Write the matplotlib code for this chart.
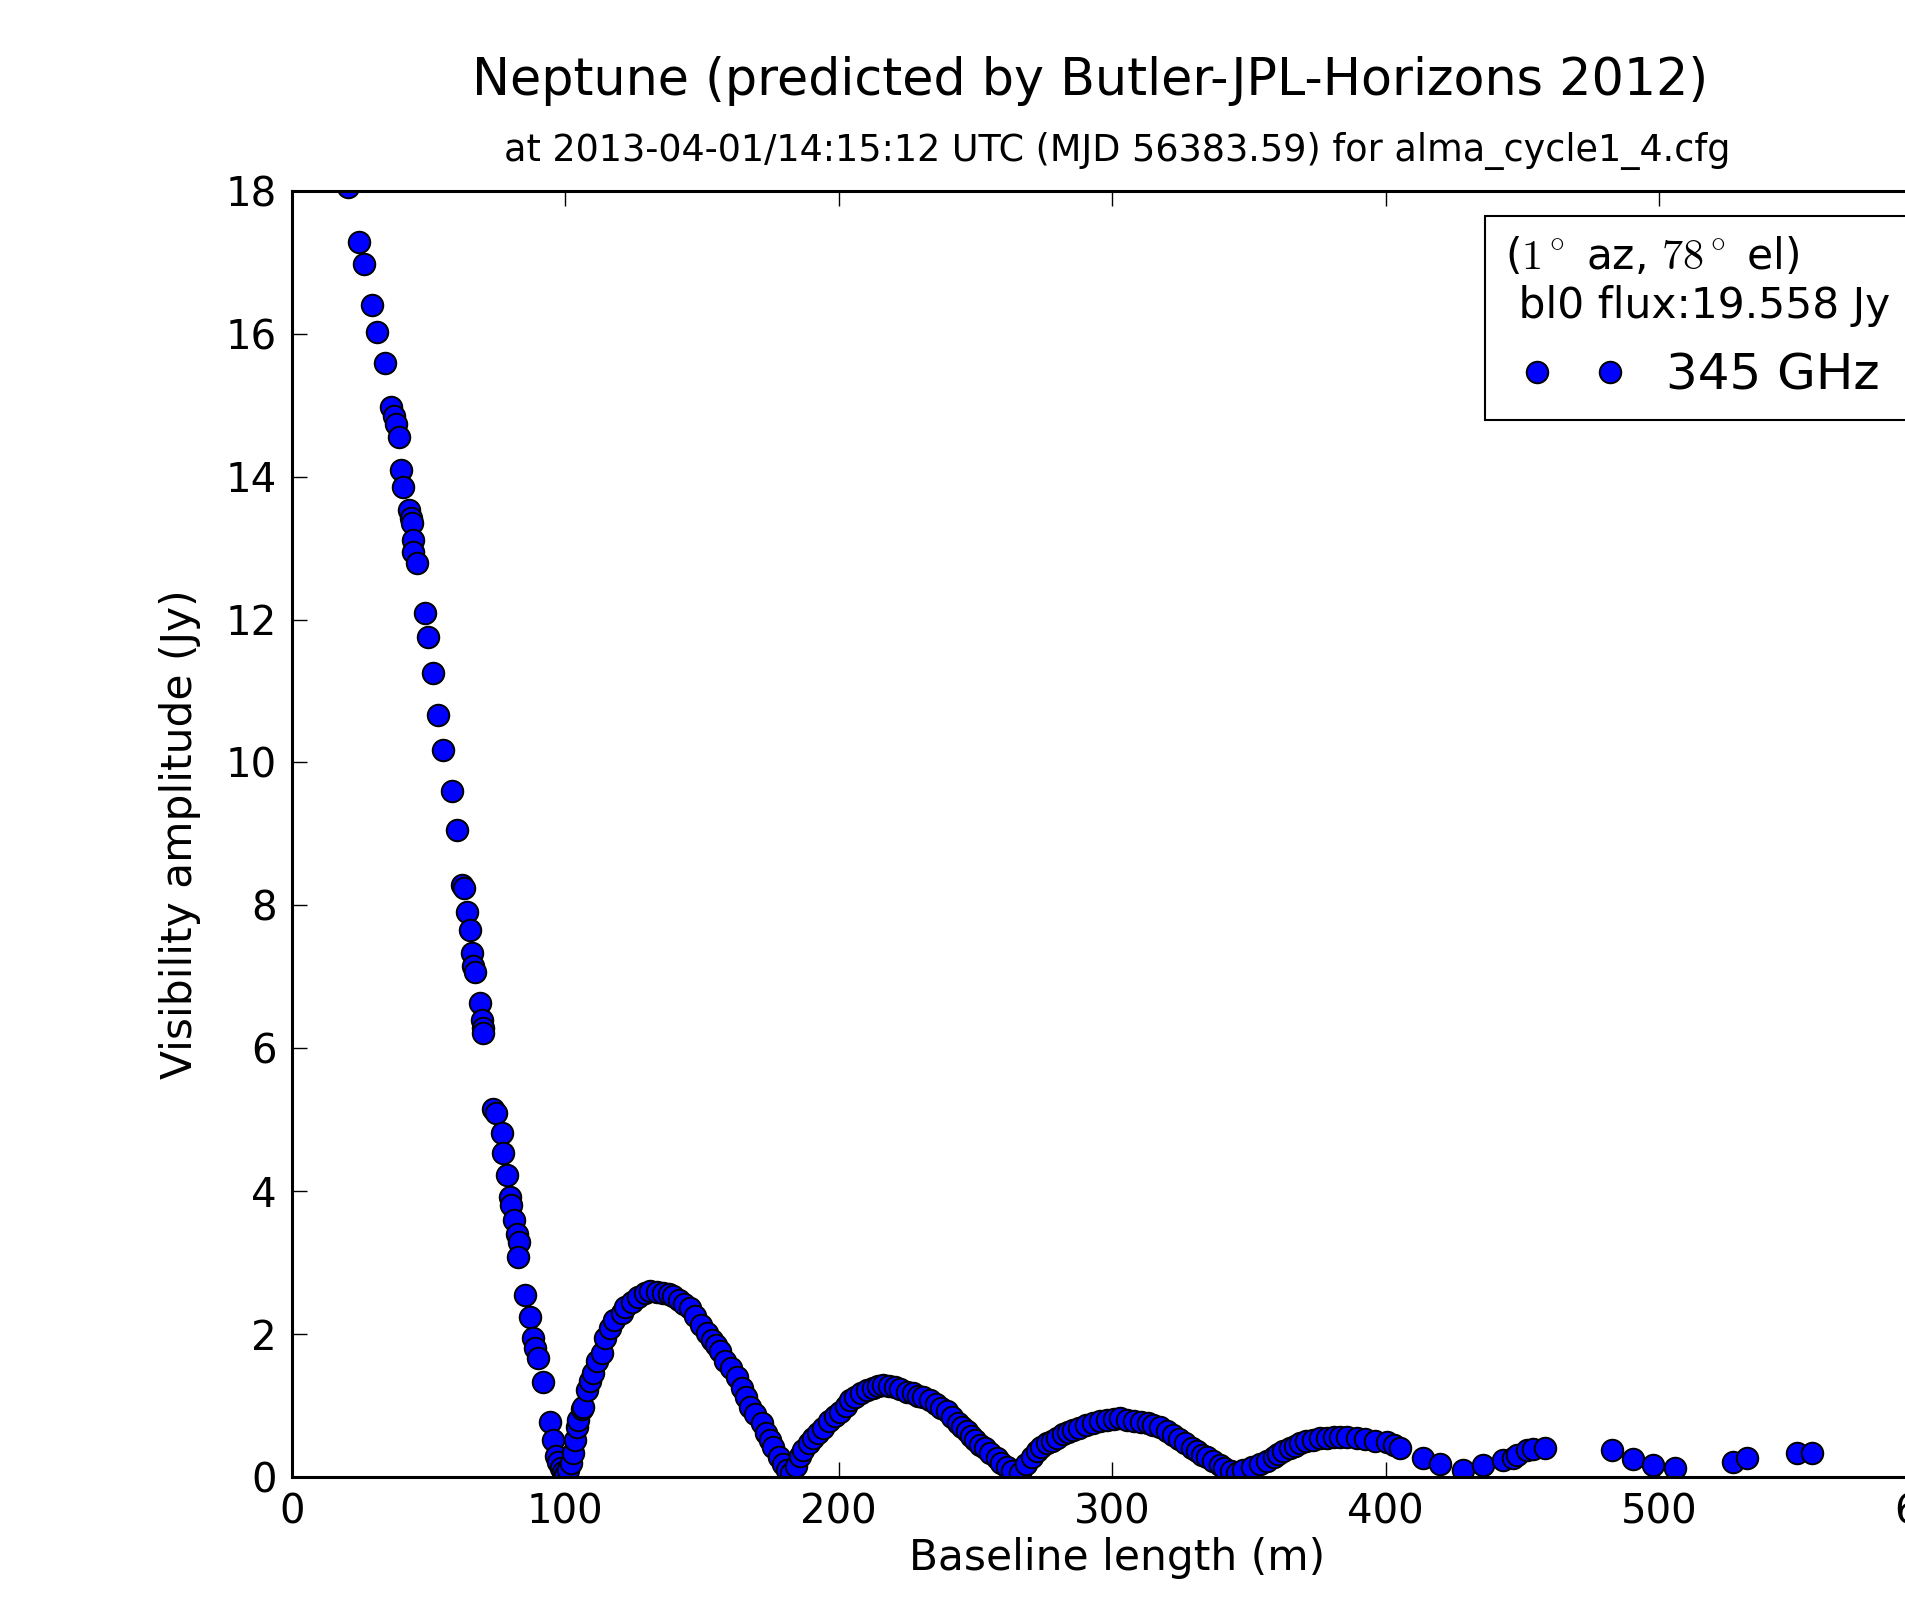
import numpy as np
import matplotlib
matplotlib.use('Agg')
import matplotlib.pyplot as plt
from matplotlib.legend_handler import HandlerLine2D

plt.rcParams['mathtext.fontset'] = 'cm'

# baseline length (m) and visibility amplitude (Jy)
baseline = [20.7, 24.7, 26.5, 29.2, 31.3, 34.1, 36.2, 37.3, 38.1, 39.2, 40.0, 40.8,
            43.0, 43.5, 43.9, 44.2, 44.5, 45.7, 48.7, 50.0, 51.6, 53.6, 55.4, 58.5,
            60.3, 62.4, 62.9, 64.0, 65.2, 65.8, 66.4, 67.0, 68.9, 69.5, 69.8, 70.1,
            73.6, 74.6, 76.8, 77.4, 78.6, 79.8, 80.3, 81.3, 82.5, 83.2, 82.9, 85.3,
            87.1, 88.1, 89.0, 90.2, 91.8, 94.4, 95.7, 96.8, 97.5, 98.4, 99.3,
            99.9, 101.1, 102.0, 103.0, 103.6, 104.2, 104.8, 106.0, 106.6, 107.9, 109.0,
            110.3, 111.5, 113.3, 114.6, 116.4, 118.0, 120.6, 122.0, 124.3, 126.5, 129.0,
            131.0, 133.5, 135.9, 138.0, 139.5, 141.5, 143.5, 145.6, 147.5, 149.5, 151.7,
            153.5, 155.0, 156.6, 158.5, 160.5, 162.7, 164.5, 166.0, 167.6, 169.5, 171.8,
            173.5, 174.8, 176.1, 178.0, 179.5, 181.0, 182.5, 184.5, 186.0, 187.1, 189.0,
            190.5, 192.5, 194.4, 196.5, 198.5, 200.5, 202.5, 204.1, 206.0, 208.0, 210.2,
            212.5, 214.5, 216.3, 218.5, 220.5, 222.5, 224.9, 227.0, 229.0, 231.0, 233.4,
            235.5, 237.5, 239.5, 241.5, 243.5, 245.0, 246.8, 248.5, 250.0, 251.7, 253.5,
            255.5, 257.8, 259.5, 261.4, 263.5, 266.3, 268.5, 270.6, 272.5, 274.0, 276.1,
            278.0, 279.7, 282.0, 283.8, 285.8, 288.0, 290.5, 293.1, 295.5, 298.0, 300.5,
            302.9, 305.5, 308.0, 310.5, 313.0, 315.0, 317.5, 320.0, 322.4, 324.5, 326.5,
            329.1, 331.0, 333.0, 334.6, 337.0, 339.4, 341.0, 343.5, 345.5, 347.9, 351.0,
            354.0, 356.5, 359.0, 360.8, 362.6, 365.0, 367.0, 368.7, 371.0, 373.5, 376.0,
            378.5, 381.0, 383.3, 386.0, 389.4, 392.5, 396.0, 400.3, 403.0, 405.2, 413.8,
            419.9, 428.4, 435.7, 443.0, 446.7, 447.9, 451.6, 454.0, 458.3, 482.7, 490.6,
            497.9, 505.8, 527.1, 532.0, 550.3, 555.8]
amplitude = [18.05, 17.29, 16.97, 16.40, 16.03, 15.59, 14.98, 14.85, 14.74, 14.55, 14.09, 13.86,
             13.53, 13.42, 13.35, 13.11, 12.95, 12.79, 12.09, 11.76, 11.25, 10.67, 10.18, 9.60,
             9.06, 8.28, 8.24, 7.91, 7.65, 7.33, 7.15, 7.07, 6.63, 6.40, 6.28, 6.21,
             5.15, 5.09, 4.81, 4.53, 4.23, 3.92, 3.80, 3.60, 3.40, 3.29, 3.08, 2.55,
             2.24, 1.94, 1.80, 1.66, 1.33, 0.77, 0.52, 0.30, 0.21, 0.12, 0.07,
             0.03, 0.10, 0.20, 0.33, 0.52, 0.70, 0.80, 0.95, 0.98, 1.22, 1.35,
             1.45, 1.62, 1.73, 1.94, 2.08, 2.20, 2.30, 2.38, 2.45, 2.52, 2.57,
             2.60, 2.59, 2.58, 2.56, 2.53, 2.48, 2.42, 2.36, 2.25, 2.13, 2.02,
             1.92, 1.85, 1.76, 1.62, 1.52, 1.40, 1.25, 1.12, 0.98, 0.88, 0.75,
             0.62, 0.52, 0.42, 0.28, 0.18, 0.10, 0.05, 0.15, 0.30, 0.38, 0.48,
             0.55, 0.62, 0.68, 0.78, 0.85, 0.91, 1.00, 1.08, 1.12, 1.17, 1.22,
             1.25, 1.27, 1.29, 1.28, 1.26, 1.23, 1.19, 1.17, 1.14, 1.12, 1.08,
             1.02, 0.97, 0.92, 0.84, 0.76, 0.70, 0.64, 0.58, 0.52, 0.45, 0.40,
             0.33, 0.26, 0.20, 0.14, 0.08, 0.06, 0.18, 0.28, 0.36, 0.42, 0.47,
             0.51, 0.55, 0.60, 0.63, 0.66, 0.69, 0.73, 0.76, 0.78, 0.80, 0.81,
             0.82, 0.80, 0.78, 0.77, 0.75, 0.73, 0.70, 0.65, 0.59, 0.53, 0.47,
             0.40, 0.36, 0.31, 0.28, 0.22, 0.17, 0.12, 0.08, 0.06, 0.10, 0.14,
             0.18, 0.23, 0.28, 0.32, 0.36, 0.40, 0.44, 0.47, 0.50, 0.52, 0.54,
             0.55, 0.56, 0.56, 0.56, 0.55, 0.53, 0.51, 0.49, 0.45, 0.40, 0.26,
             0.18, 0.10, 0.17, 0.24, 0.27, 0.31, 0.38, 0.39, 0.40, 0.38, 0.25,
             0.17, 0.12, 0.21, 0.26, 0.34, 0.34]

xticks = [0, 100, 200, 300, 400, 500, 600]
yticks = [0, 2, 4, 6, 8, 10, 12, 14, 16, 18]

title = 'Neptune (predicted by Butler-JPL-Horizons 2012)'
subtitle = 'at 2013-04-01/14:15:12 UTC (MJD 56383.59) for alma_cycle1_4.cfg'
legend_title = '($1^\\circ$ az, $78^\\circ$ el)\n bl0 flux:19.558 Jy'
freq_label = '345 GHz'

W, H = 1906, 1597
fig = plt.figure(figsize=(W / 100, H / 100), dpi=100, facecolor='white')
# axes runs off the right edge, like the cropped original
ax = fig.add_axes([291.7 / W, 1 - 1477 / H, 1641 / W, 1286.2 / H])

pts, = ax.plot(baseline, amplitude, 'o', color='blue', markeredgecolor='black',
               markersize=15.5, markeredgewidth=1.4, label=freq_label)

ax.set_xlim(0, 600)
ax.set_ylim(0, 18)
ax.set_xticks(xticks)
ax.set_yticks(yticks)
ax.tick_params(direction='in', length=11, width=1, labelsize=29, pad=11,
               top=True, right=True, colors='black')
for s in ax.spines.values():
    s.set_linewidth(2.2)

ax.set_xlabel('Baseline length (m)', fontsize=30.5)
ax.set_ylabel('Visibility amplitude (Jy)', fontsize=30.5)
ax.xaxis.set_label_coords(0.503, -0.047)
ax.yaxis.set_label_coords(-0.055, 0.5)

fig.text(1090 / W, 1 - 81 / H, title, fontsize=36.5, ha='center', va='center')
fig.text(1117 / W, 1 - 151 / H, subtitle, fontsize=26.3, ha='center', va='center')

leg = ax.legend(loc='upper left', bbox_to_anchor=(0.7272, 0.9804), borderaxespad=0,
                numpoints=2, fontsize=36, title=legend_title, title_fontsize=30.5,
                fancybox=False, framealpha=1, edgecolor='black',
                borderpad=0.4, labelspacing=0.5, handlelength=2.72, handletextpad=0.49,
                handler_map={pts: HandlerLine2D(marker_pad=0.63)})
leg.get_frame().set_linewidth(1.5)
leg._legend_box.align = 'left'

fig.savefig('out.png', dpi=100)
